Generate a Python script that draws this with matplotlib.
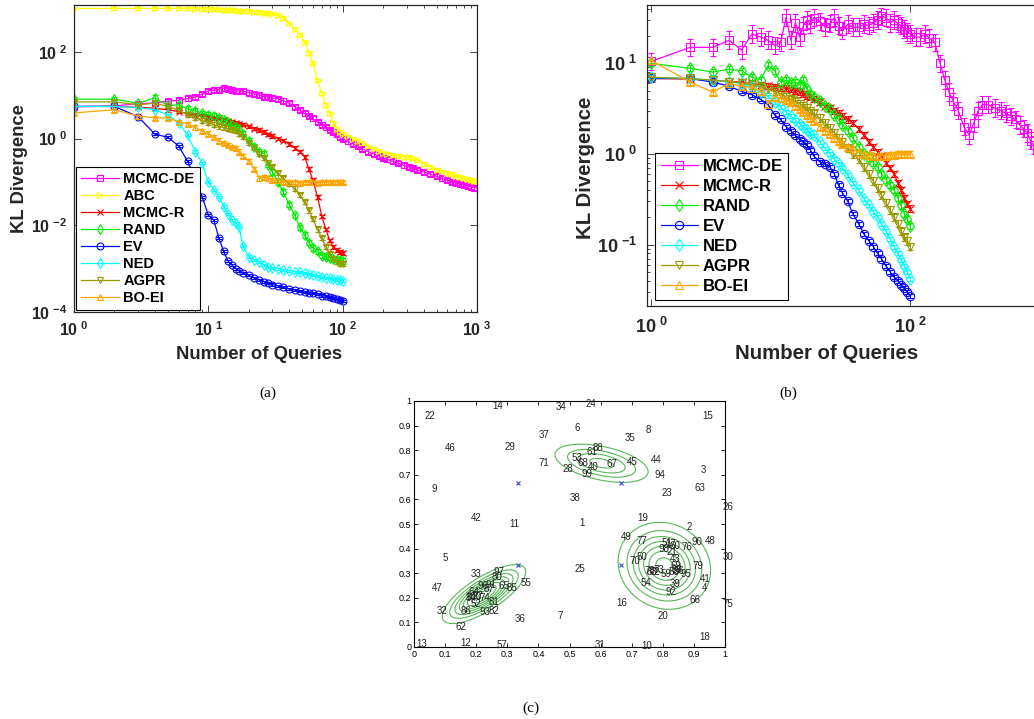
import numpy as np
import matplotlib
matplotlib.use('Agg')
import matplotlib.pyplot as plt
from matplotlib.ticker import FixedLocator, FixedFormatter, NullLocator, LogLocator, NullFormatter

plt.rcParams['font.family'] = ['Liberation Sans', 'DejaVu Sans']
plt.rcParams['mathtext.fontset'] = 'custom'
plt.rcParams['mathtext.bf'] = 'Liberation Sans:bold'
plt.rcParams['mathtext.rm'] = 'Liberation Sans'

# query grids
q_short = [1, 2, 3, 4, 5, 6, 7, 8, 9, 10, 11, 12, 13, 14, 15, 16, 17, 18, 20, 22, 24, 26, 28, 30,
           33, 36, 40, 44, 48, 52, 56, 60, 65, 70, 75, 80, 85, 90, 95, 100]
q_long = q_short + [110, 120, 130, 140, 155, 170, 185, 200, 215, 235, 260, 285, 310, 335, 360,
                    400, 450, 500, 550, 600, 650, 700, 750, 800, 850, 900, 950, 1000]

# ---- panel (a) ----
a_mcmcde = [5.4, 5.6, 6.4, 6.6, 7.3, 7.6, 8.4, 9.0, 10.5, 12.5, 13, 13.5, 14.5, 14, 13, 12.5, 12.5,
            12.5, 11.5, 10.8, 10, 9.3, 9, 8.7, 8.2, 7.5, 6.5, 5.4, 4.5, 3.8, 3.3, 2.9, 2.4, 2.1,
            1.8, 1.55, 1.4, 1.25, 1.1, 1.0,
            0.86, 0.76, 0.66, 0.58, 0.5, 0.44, 0.4, 0.36, 0.33, 0.3, 0.27, 0.24, 0.22, 0.205,
            0.19, 0.17, 0.15, 0.135, 0.12, 0.11, 0.1, 0.095, 0.09, 0.085, 0.08, 0.077, 0.074, 0.072]
a_abc = [1000, 1000, 1000, 1000, 1000, 1000, 1000, 990, 980, 965, 955, 945, 935, 925, 915, 905,
         895, 885, 865, 845, 825, 805, 785, 760, 700, 610, 450, 340, 250, 170, 95, 55, 22, 11,
         6, 3.8, 2.3, 1.7, 1.45, 1.3,
         1.12, 1.0, 0.88, 0.78, 0.66, 0.57, 0.51, 0.47, 0.44, 0.41, 0.39, 0.38, 0.37, 0.35,
         0.32, 0.26, 0.22, 0.19, 0.175, 0.16, 0.15, 0.14, 0.13, 0.12, 0.115, 0.11, 0.107, 0.105]
a_mcmcr = [5.5, 5.5, 5.3, 5.0, 4.6, 4.2, 3.8, 3.5, 3.3, 3.1, 3.0, 2.9, 2.7, 2.55, 2.4, 2.3, 2.2, 2.1,
           1.9, 1.7, 1.55, 1.4, 1.25, 1.15, 1.0, 0.9, 0.75, 0.6, 0.5, 0.38, 0.2, 0.11, 0.045, 0.016,
           0.008, 0.0045, 0.0032, 0.0027, 0.0024, 0.0023]
a_rand = [8.1, 8.1, 6.5, 8.6, 5.8, 6.0, 4.8, 4.3, 3.8, 3.5, 3.3, 3.0, 2.7, 2.4, 2.0, 1.8, 1.7, 1.3,
          0.9, 0.65, 0.5, 0.45, 0.25, 0.17, 0.1, 0.06, 0.03, 0.017, 0.009, 0.006, 0.004, 0.003,
          0.0025, 0.002, 0.0019, 0.0018, 0.0017, 0.0016, 0.0016, 0.0015]
a_ev = [5.5, 5.5, 3.2, 1.26, 1.07, 0.68, 0.3, 0.12, 0.045, 0.017, 0.013, 0.005, 0.0025, 0.0015,
        0.0012, 0.001, 0.0009, 0.0008, 0.0007, 0.0006, 0.00055, 0.0005, 0.00046, 0.00043, 0.0004,
        0.00037, 0.00034, 0.00032, 0.0003, 0.00029, 0.00028, 0.00027, 0.00026, 0.00024, 0.00023,
        0.00022, 0.00021, 0.0002, 0.00019, 0.00018]
a_ned = [5.5, 5.5, 5.2, 4.6, 3.5, 2.3, 1.2, 0.5, 0.27, 0.1, 0.065, 0.045, 0.027, 0.018, 0.013, 0.011,
         0.009, 0.0033, 0.0019, 0.0016, 0.0014, 0.0012, 0.0011, 0.00105, 0.001, 0.00095, 0.0009,
         0.00085, 0.00082, 0.0008, 0.00075, 0.00072, 0.00068, 0.00065, 0.00062, 0.0006, 0.00058,
         0.00056, 0.00055, 0.00053]
a_agpr = [7.0, 7.0, 6.0, 6.5, 5.5, 4.5, 3.5, 3.0, 2.6, 2.3, 2.1, 1.9, 1.8, 1.7, 1.6, 1.5, 1.3, 1.1,
          0.8, 0.6, 0.45, 0.35, 0.28, 0.22, 0.16, 0.12, 0.09, 0.07, 0.05, 0.035, 0.022, 0.014, 0.008,
          0.005, 0.0032, 0.0022, 0.0017, 0.0014, 0.0013, 0.0013]
a_boei = [3.9, 4.6, 3.3, 3.0, 3.0, 2.4, 2.2, 1.8, 1.5, 1.3, 1.1, 0.9, 0.8, 0.7, 0.65, 0.6, 0.5, 0.4,
          0.3, 0.2, 0.12, 0.13, 0.12, 0.11, 0.11, 0.1, 0.1, 0.1, 0.095, 0.1, 0.1, 0.1, 0.095, 0.1,
          0.1, 0.1, 0.1, 0.1, 0.1, 0.1]

# ---- panel (b) ----
b_mcmcde = [10.5, 15, 15, 18, 14, 21, 19.5, 18, 15.8, 17, 32, 18, 28, 19.5, 26, 30, 27, 32, 29, 25,
            27.6, 32, 26, 23, 27, 25, 25, 27, 26, 28, 30, 33, 32, 28, 30, 27.6, 26, 24, 22, 21,
            19.5, 19.5, 21, 19, 17, 10, 6.5, 4.8, 3.8, 3.0, 2.0, 1.6, 2.2, 3.0, 3.5, 3.5, 3.2,
            3.0, 2.8, 2.6, 2.4, 2.1, 1.9, 1.7, 1.4, 1.25, 1.1, 1.0]
b_mcmcr = [6.8, 6.7, 6.5, 6.3, 6.2, 6.0, 5.8, 5.6, 5.5, 5.4, 5.3, 5.2, 5.0, 4.8, 4.6, 4.4, 4.2, 4.0,
           3.7, 3.4, 3.2, 3.0, 2.8, 2.6, 2.4, 2.2, 1.9, 1.6, 1.35, 1.2, 1.05, 0.95, 0.8, 0.7, 0.6,
           0.48, 0.4, 0.33, 0.28, 0.25]
b_rand = [10, 8.8, 8.0, 8.6, 8.3, 7.0, 6.6, 9.5, 8.3, 6.2, 6.5, 6.0, 6.2, 5.8, 6.5, 5.2, 4.6, 4.2,
          3.8, 3.4, 3.1, 2.7, 2.4, 2.1, 1.8, 1.5, 1.2, 1.0, 0.9, 0.8, 0.72, 0.6, 0.52, 0.45, 0.4,
          0.33, 0.27, 0.22, 0.19, 0.16]
b_ev = [6.8, 6.8, 6.2, 5.6, 4.9, 4.5, 4.0, 3.5, 2.7, 2.4, 2.0, 1.8, 1.6, 1.45, 1.35, 1.25, 1.1, 0.95,
        0.82, 0.78, 0.72, 0.6, 0.45, 0.37, 0.3, 0.22, 0.17, 0.13, 0.11, 0.095, 0.08, 0.07, 0.058,
        0.05, 0.044, 0.04, 0.036, 0.033, 0.03, 0.027]
b_ned = [7.0, 6.8, 6.5, 6.3, 6.0, 5.5, 4.8, 4.3, 3.7, 3.3, 2.9, 2.6, 2.35, 2.15, 2.0, 1.85, 1.7, 1.6,
         1.35, 1.15, 1.0, 0.88, 0.78, 0.7, 0.58, 0.48, 0.4, 0.32, 0.27, 0.23, 0.2, 0.17, 0.14,
         0.115, 0.095, 0.08, 0.068, 0.058, 0.05, 0.042]
b_agpr = [7.0, 6.8, 6.5, 6.3, 6.0, 5.8, 5.5, 5.2, 4.9, 4.6, 4.3, 4.0, 3.8, 3.6, 3.4, 3.2, 3.0, 2.8,
          2.5, 2.2, 1.95, 1.7, 1.5, 1.35, 1.15, 1.0, 0.88, 0.72, 0.6, 0.5, 0.42, 0.35, 0.29, 0.24,
          0.2, 0.17, 0.14, 0.12, 0.11, 0.095]
b_boei = [10.8, 6.2, 4.8, 6.0, 5.6, 5.4, 5.0, 3.6, 4.3, 4.1, 3.9, 3.7, 3.4, 3.1, 2.9, 2.7, 2.5, 2.3,
          2.0, 1.8, 1.65, 1.5, 1.4, 1.3, 1.2, 1.12, 1.06, 1.0, 0.97, 0.95, 0.95, 0.96, 0.96, 0.97,
          0.98, 0.99, 1.0, 1.0, 1.0, 1.0]

# ---- panel (c) ----
c_labels = list(range(1, 101))
c_x = [0.54, 0.886, 0.93, 0.933, 0.10, 0.524, 0.469, 0.755, 0.065, 0.748,
       0.324, 0.167, 0.025, 0.268, 0.943, 0.667, 0.826, 0.936, 0.737, 0.80,
       0.829, 0.051, 0.812, 0.569, 0.534, 1.01, 0.205, 0.494, 0.309, 1.01,
       0.598, 0.089, 0.20, 0.472, 0.695, 0.341, 0.418, 0.519, 0.841, 0.575,
       0.936, 0.20, 0.841, 0.778, 0.702, 0.116, 0.073, 0.952, 0.684, 0.734,
       0.812, 0.20, 0.524, 0.746, 0.359, 0.852, 0.282, 0.835, 0.81, 0.838,
       0.572, 0.15, 0.92, 0.193, 0.289, 0.904, 0.637, 0.544, 0.843, 0.711,
       0.416, 0.775, 0.786, 0.228, 1.01, 0.879, 0.734, 0.758, 0.914, 0.266,
       0.257, 0.257, 0.764, 0.183, 0.314, 0.166, 0.241, 0.591, 0.845, 0.909,
       0.248, 0.825, 0.228, 0.791, 0.874, 0.222, 0.273, 0.804, 0.555, 0.19]
c_y = [0.505, 0.489, 0.72, 0.241, 0.36, 0.889, 0.126, 0.883, 0.642, 0.006,
       0.499, 0.017, 0.011, 0.98, 0.94, 0.18, 0.418, 0.042, 0.526, 0.126,
       0.387, 0.94, 0.627, 0.986, 0.317, 0.57, 0.207, 0.724, 0.814, 0.367,
       0.008, 0.146, 0.297, 0.974, 0.851, 0.114, 0.862, 0.604, 0.256, 0.733,
       0.276, 0.526, 0.356, 0.761, 0.753, 0.81, 0.241, 0.431, 0.448, 0.367,
       0.421, 0.175, 0.767, 0.261, 0.261, 0.308, 0.008, 0.305, 0.295, 0.41,
       0.791, 0.083, 0.648, 0.225, 0.246, 0.191, 0.743, 0.749, 0.33, 0.35,
       0.749, 0.305, 0.313, 0.20, 0.175, 0.408, 0.431, 0.31, 0.33, 0.286,
       0.182, 0.146, 0.304, 0.20, 0.239, 0.146, 0.236, 0.81, 0.311, 0.428,
       0.253, 0.225, 0.144, 0.699, 0.298, 0.246, 0.304, 0.40, 0.702, 0.205]
cent_x = [1 / 3, 2 / 3, 1 / 3, 2 / 3]
cent_y = [2 / 3, 2 / 3, 1 / 3, 1 / 3]
# gaussian components: mean, std, correlation, peak height (contour units)
g_mx = [0.603, 0.805, 0.225]
g_my = [0.747, 0.33, 0.215]
g_sx = [0.087, 0.074, 0.065]
g_sy = [0.045, 0.088, 0.058]
g_rho = [-0.45, -0.1, 0.75]
g_h = [4.4, 7.5, 8.4]

COL = {'MCMC-DE': '#ff00ff', 'ABC': '#ffff00', 'MCMC-R': '#ff0000', 'RAND': '#00ee00',
       'EV': '#0000ff', 'NED': '#00ffff', 'AGPR': '#999900', 'BO-EI': '#ffa500'}
MRK = {'MCMC-DE': 's', 'ABC': '>', 'MCMC-R': 'x', 'RAND': 'd',
       'EV': 'o', 'NED': 'd', 'AGPR': 'v', 'BO-EI': '^'}
AXC = (0.15, 0.15, 0.15)

W, H = 1034, 719
fig = plt.figure(figsize=(W / 100, H / 100), dpi=100)


def box(l, t, r, b):
    return [l / W, 1 - b / H, (r - l) / W, (b - t) / H]


def pw(e):
    return r'$\mathbf{10}^{\ \mathbf{%d}}$' % e


def draw(ax, x, y, name, err, ms):
    y = np.array(y, dtype=float)
    c = COL[name]
    eb = ax.errorbar(x, y, yerr=[y - y / (1 + err), y * err], color=c, marker=MRK[name],
                     mfc='none', mec=c, ms=ms, mew=0.8, lw=0.9, elinewidth=0.7, capsize=2,
                     capthick=0.7)
    return eb[0]


def style(ax, fs, xt, yt, xminor, yminor, padx, pady):
    ax.set_xscale('log')
    ax.set_yscale('log')
    ax.xaxis.set_major_locator(FixedLocator(xt))
    ax.xaxis.set_major_formatter(FixedFormatter([pw(int(round(np.log10(v)))) for v in xt]))
    ax.yaxis.set_major_locator(FixedLocator(yt))
    ax.yaxis.set_major_formatter(FixedFormatter([pw(int(round(np.log10(v)))) for v in yt]))
    ax.xaxis.set_minor_locator(LogLocator(subs=np.arange(2, 10)) if xminor else NullLocator())
    ax.yaxis.set_minor_locator(LogLocator(subs=np.arange(2, 10)) if yminor else NullLocator())
    ax.xaxis.set_minor_formatter(NullFormatter())
    ax.yaxis.set_minor_formatter(NullFormatter())
    ax.tick_params(which='both', direction='in', top=True, right=True, color=AXC,
                   labelcolor=AXC, width=0.6, labelsize=fs)
    ax.tick_params(which='major', length=5)
    ax.tick_params(which='minor', length=2.5)
    ax.tick_params(axis='x', pad=padx)
    ax.tick_params(axis='y', pad=pady)
    for s in ax.spines.values():
        s.set_color(AXC)
        s.set_linewidth(0.9)


# ---------------- (a) ----------------
ax = fig.add_axes(box(74, 5, 477, 312))
names_a = ['MCMC-DE', 'ABC', 'MCMC-R', 'RAND', 'EV', 'NED', 'AGPR', 'BO-EI']
hs = []
hs.append(draw(ax, q_long, a_mcmcde, 'MCMC-DE', 0.12, 5))
hs.append(draw(ax, q_long, a_abc, 'ABC', 0.1, 5))
hs.append(draw(ax, q_short, a_mcmcr, 'MCMC-R', 0.1, 5))
hs.append(draw(ax, q_short, a_rand, 'RAND', 0.15, 5))
hs.append(draw(ax, q_short, a_ev, 'EV', 0.06, 5))
hs.append(draw(ax, q_short, a_ned, 'NED', 0.06, 5))
hs.append(draw(ax, q_short, a_agpr, 'AGPR', 0.12, 5))
hs.append(draw(ax, q_short, a_boei, 'BO-EI', 0.12, 5))
ax.set_xlim(1, 1000)
ax.set_ylim(1e-4, 1200)
style(ax, 11.5, [1, 10, 100, 1000], [1e-4, 1e-2, 1, 1e2], True, False, 6, 5)
ax.set_xlabel('Number of Queries', fontsize=13.3, fontweight='bold', color=AXC)
ax.set_ylabel('KL Divergence', fontsize=13.3, fontweight='bold', color=AXC)
ax.xaxis.set_label_coords((259 - 74) / 403, -(346 - 312) / 307)
ax.yaxis.set_label_coords(-(74 - 28) / 403, (312 - 169) / 307)
leg = ax.legend(hs, names_a, loc='lower left', bbox_to_anchor=(0.005, 0.007),
                prop={'weight': 'bold', 'size': 10.5}, fancybox=False, edgecolor='k',
                framealpha=1, borderpad=0.35, labelspacing=0.2, handlelength=2.6,
                handletextpad=0.3, borderaxespad=0, numpoints=1)
leg.get_frame().set_linewidth(0.8)

# ---------------- (b) ----------------
# right spine lies just past the picture's edge, as in the original crop
ax = fig.add_axes(box(647, 5, 1050, 306))
names_b = ['MCMC-DE', 'MCMC-R', 'RAND', 'EV', 'NED', 'AGPR', 'BO-EI']
hs = []
hs.append(draw(ax, q_long, b_mcmcde, 'MCMC-DE', 0.25, 6))
hs.append(draw(ax, q_short, b_mcmcr, 'MCMC-R', 0.08, 6))
hs.append(draw(ax, q_short, b_rand, 'RAND', 0.08, 6))
hs.append(draw(ax, q_short, b_ev, 'EV', 0.05, 6))
hs.append(draw(ax, q_short, b_ned, 'NED', 0.05, 6))
hs.append(draw(ax, q_short, b_agpr, 'AGPR', 0.1, 6))
hs.append(draw(ax, q_short, b_boei, 'BO-EI', 0.08, 6))
ax.set_xlim(0.93, 1200)
ax.set_ylim(0.021, 44)
style(ax, 13, [1, 100], [0.1, 1, 10], False, True, 8, 7)
ax.set_xlabel('Number of Queries', fontsize=14.7, fontweight='bold', color=AXC)
ax.set_ylabel('KL Divergence', fontsize=14.7, fontweight='bold', color=AXC)
ax.xaxis.set_label_coords((827 - 647) / 403, -(344 - 306) / 301)
ax.yaxis.set_label_coords(-(647 - 595) / 403, (306 - 168) / 301)
leg = ax.legend(hs, names_b, loc='lower left', bbox_to_anchor=(8 / 403, 0.02),
                prop={'weight': 'bold', 'size': 12}, fancybox=False, edgecolor='k',
                framealpha=1, borderpad=0.35, labelspacing=0.3, handlelength=2.2,
                handletextpad=0.3, borderaxespad=0, numpoints=1)
leg.get_frame().set_linewidth(0.8)

# ---------------- (c) ----------------
ax = fig.add_axes(box(414, 401, 725, 647))
gx = np.linspace(0, 1, 400)
X, Y = np.meshgrid(gx, gx)
Z = np.zeros_like(X)
for mx, my, sx, sy, r, h in zip(g_mx, g_my, g_sx, g_sy, g_rho, g_h):
    dx = (X - mx) / sx
    dy = (Y - my) / sy
    Z += h * np.exp(-0.5 * (dx ** 2 - 2 * r * dx * dy + dy ** 2) / (1 - r ** 2))
ax.contour(X, Y, Z, levels=np.arange(1, 9), colors='#55b855', linewidths=0.8)
ax.plot(cent_x, cent_y, 'x', color='#3a4fc0', ms=3.5, mew=0.8)
for lab, x, y in zip(c_labels, c_x, c_y):
    ax.text(x, y, str(lab), fontsize=7, color='#222222', ha='center', va='center')
ax.set_xlim(0, 1)
ax.set_ylim(0, 1)
tk = [i / 10 for i in range(11)]
tl = ['0'] + ['%.1f' % v for v in tk[1:-1]] + ['1']
ax.set_xticks(tk)
ax.set_xticklabels(tl)
ax.set_yticks(tk)
ax.set_yticklabels(tl)
ax.tick_params(direction='in', top=True, right=True, labelsize=6.5, length=3, width=0.6, pad=2)
for s in ax.spines.values():
    s.set_linewidth(0.8)

# captions
for txt, x, y in [('(a)', 268, 393), ('(b)', 788, 393), ('(c)', 531, 708)]:
    fig.text(x / W, 1 - y / H, txt, family='Liberation Serif', fontsize=11, ha='center', va='center')

fig.savefig('out.png', dpi=100)
